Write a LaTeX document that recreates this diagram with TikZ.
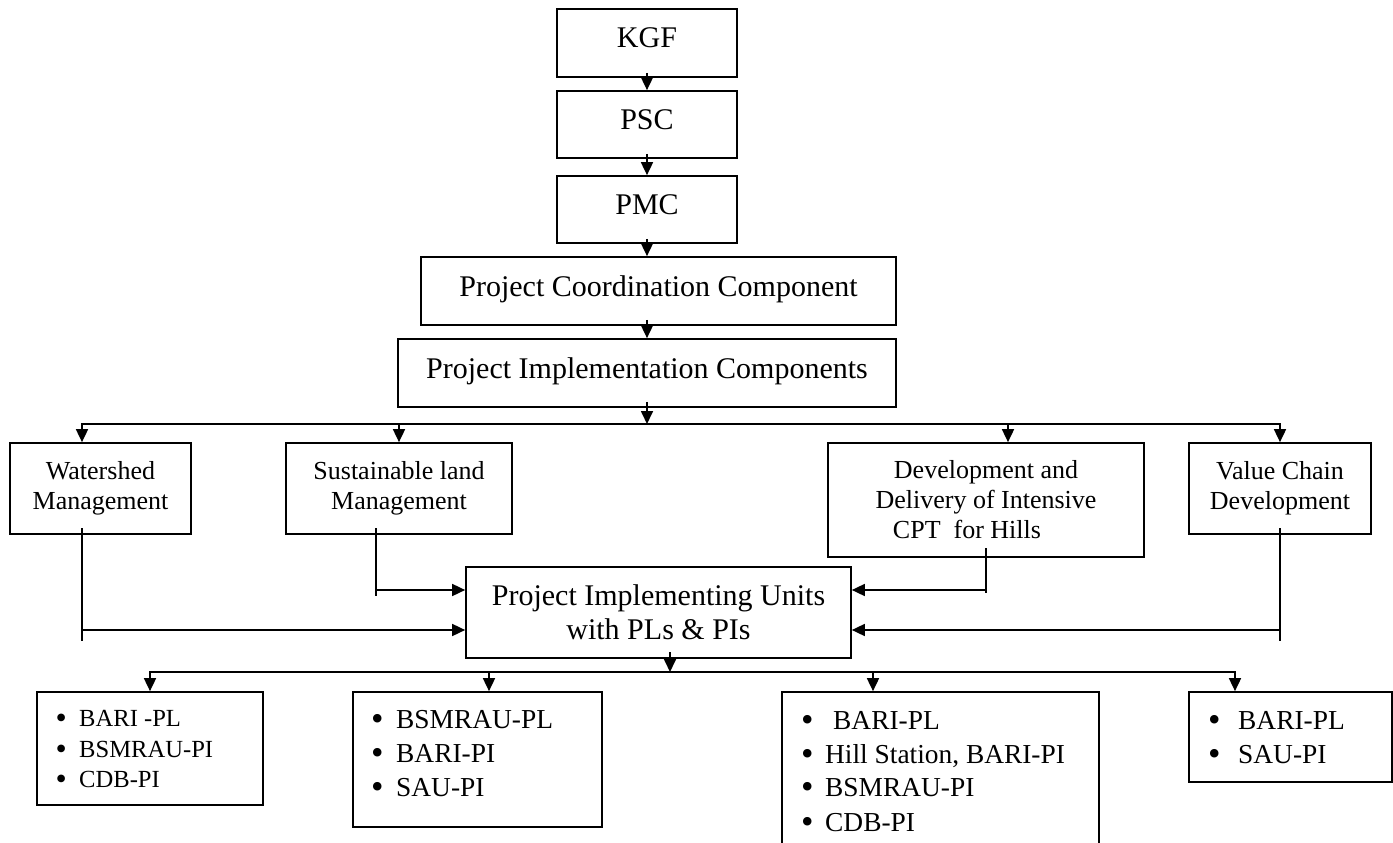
\documentclass[tikz,border=0pt]{standalone}
\usepackage{fontspec}
\setmainfont{Liberation Serif}
\usetikzlibrary{arrows.meta,calc}
\newcommand{\bigbul}{\smash{\raisebox{-0.1em}{\scalebox{1.3}{\textbullet}}}}
\begin{document}
\begin{tikzpicture}[x=1pt,y=-1pt,
  box/.style={draw,line width=1.7pt,inner sep=0pt,align=center},
  big/.style={font=\fontsize{30}{34}\selectfont},
  mid/.style={font=\fontsize{26}{30}\selectfont},
  one/.style={text height=20pt,text depth=10pt},
  conn/.style={line width=1.7pt},
  arr/.style={line width=1.7pt,-{Triangle[width=12pt,length=13pt]}},
  arrboth/.style={line width=1.7pt,{Triangle[width=12pt,length=13pt]}-{Triangle[width=12pt,length=13pt]}},
  item/.style={anchor=base west,inner sep=0pt}]
\useasboundingbox (0,0) rectangle (1393,843);
% top chain
\node[box,big,one,minimum width=180pt,minimum height=68pt] (kgf) at (647,43) {KGF};
\node[box,big,one,minimum width=180pt,minimum height=67pt] (psc) at (647,124.5) {PSC};
\node[box,big,one,minimum width=180pt,minimum height=67pt] (pmc) at (647,209.5) {PMC};
\node[box,big,one,minimum width=475pt,minimum height=68pt] (pcc) at (658.5,291) {Project Coordination Component};
\node[box,big,one,minimum width=498pt,minimum height=68pt] (pic) at (647,373) {Project Implementation Components};
% components
\node[box,mid,minimum width=181pt,minimum height=91pt] (ws) at (100.5,488.5) {Watershed\\Management};
\node[box,mid,minimum width=226pt,minimum height=91pt] (slm) at (399,488.5) {Sustainable land\\Management};
\node[box,mid,minimum width=316pt,minimum height=114pt] (dev) at (986,500) {Development and\\Delivery of Intensive\\CPT\ \ for Hills\hspace*{38pt}};
\node[box,mid,minimum width=182pt,minimum height=91pt] (vc) at (1280,488.5) {Value Chain\\Development};
% implementing units
\node[box,big,minimum width=385pt,minimum height=91pt] (piu) at (658.5,612.5) {Project Implementing Units\\with PLs \& PIs};
% bottom boxes
\node[box,minimum width=226pt,minimum height=113pt] (b1) at (150,748.5) {};
\node[box,minimum width=249pt,minimum height=135pt] (b2) at (477.5,759.5) {};
\node[box,minimum width=317pt,minimum height=188pt] (b3) at (940.5,786) {};
\node[box,minimum width=203pt,minimum height=90pt] (b4) at (1290.5,737) {};
% bullet items
\begin{scope}[font=\fontsize{24.6}{30}\selectfont]
\node[item] (b1i1) at (55.5,726) {\makebox[23.5pt][l]{\bigbul}BARI -PL};
\node[item] (b1i2) at (55.5,757) {\makebox[23.5pt][l]{\bigbul}BSMRAU-PI};
\node[item] (b1i3) at (55.5,787) {\makebox[23.5pt][l]{\bigbul}CDB-PI};
\end{scope}
\begin{scope}[font=\fontsize{27.4}{32}\selectfont]
\node[item] (b2i1) at (370.8,728) {\makebox[25.2pt][l]{\bigbul}BSMRAU-PL};
\node[item] (b2i2) at (370.8,762) {\makebox[25.2pt][l]{\bigbul}BARI-PI};
\node[item] (b2i3) at (370.8,796) {\makebox[25.2pt][l]{\bigbul}SAU-PI};
\node[item] (b3i1) at (800.8,729) {\makebox[32.2pt][l]{\bigbul}BARI-PL};
\node[item] (b3i2) at (800.8,763) {\makebox[24.2pt][l]{\bigbul}Hill Station, BARI-PI};
\node[item] (b3i3) at (800.8,796) {\makebox[24.2pt][l]{\bigbul}BSMRAU-PI};
\node[item] (b3i4) at (800.8,831) {\makebox[24.2pt][l]{\bigbul}CDB-PI};
\node[item] (b4i1) at (1207.8,729) {\makebox[30.2pt][l]{\bigbul}BARI-PL};
\node[item] (b4i2) at (1207.8,763) {\makebox[30.2pt][l]{\bigbul}SAU-PI};
\end{scope}
% top connectors
\draw[arr] ($(kgf.south)+(0,-5)$) -- (psc.north);
\draw[arr] ($(psc.south)+(0,-5)$) -- (pmc.north);
\draw[arr] ($(pmc.south)+(0,-5)$) -- (pmc.south |- pcc.north);
\draw[arr] ($(pcc.south -| pmc.south)+(0,-6)$) -- (pmc.south |- pic.north);
% first bus
\coordinate (busL) at (82,424);
\coordinate (busR) at (1280,424);
\coordinate (devTap) at (1008,424);
\draw[arr] ($(pic.south)+(0,-6)$) -- (pic.south |- busL);
\draw[arrboth] (busL |- ws.north) -- (busL) -- (busR) -- (busR |- vc.north);
\draw[arr] (slm.north |- busL) -- (slm.north);
\draw[arr] (devTap) -- (devTap |- dev.north);
% feeds into PIU
\coordinate (wsT) at (82,528); \coordinate (wsB) at (82,641); \coordinate (wsJ) at (82,630);
\coordinate (slmT) at (376,528); \coordinate (slmB) at (376,596); \coordinate (slmJ) at (376,590);
\coordinate (devT) at (986,548); \coordinate (devB) at (986,593); \coordinate (devJ) at (986,590);
\coordinate (vcT) at (1280,528); \coordinate (vcB) at (1280,641); \coordinate (vcJ) at (1280,630);
\draw[conn] (wsT) -- (wsB);
\draw[conn] (slmT) -- (slmB);
\draw[conn] (devT) -- (devB);
\draw[conn] (vcT) -- (vcB);
\draw[arr] (wsJ) -- (wsJ -| piu.west);
\draw[arr] (slmJ) -- (slmJ -| piu.west);
\draw[arr] (devJ) -- (devJ -| piu.east);
\draw[arr] (vcJ) -- (vcJ -| piu.east);
% second bus
\coordinate (piuO) at (670,652);
\coordinate (bus2) at (670,672);
\coordinate (b2L) at (150,672);
\coordinate (b2R) at (1235,672);
\coordinate (t2) at (489,672);
\coordinate (t3) at (873,672);
\draw[arr] (piuO) -- (bus2);
\draw[arrboth] (b2L |- b1.north) -- (b2L) -- (b2R) -- (b2R |- b4.north);
\draw[arr] (t2) -- (t2 |- b2.north);
\draw[arr] (t3) -- (t3 |- b3.north);
\end{tikzpicture}
\end{document}
